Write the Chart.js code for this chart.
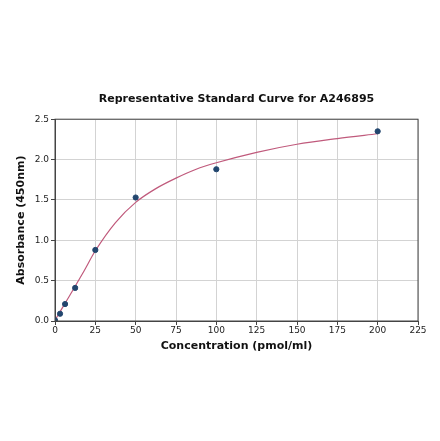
<!DOCTYPE html>
<html>
<head>
<meta charset="utf-8">
<script src="https://cdn.jsdelivr.net/npm/chart.js@4"></script>
<style>
  html, body { margin: 0; padding: 0; background: #fff; }
  #wrap { width: 440px; height: 441px; }
</style>
</head>
<body>
<div id="wrap"><canvas id="curveChart" width="440" height="441"></canvas></div>
<script>
// --- standard points ---
const concentrations = [0, 3.125, 6.25, 12.5, 25, 50, 100, 200];
const absorbance = [0.01, 0.09, 0.21, 0.41, 0.88, 1.53, 1.88, 2.35];

// --- fitted curve ---
const curveX = [0, 3, 6.25, 12.5, 18, 25, 37.5, 50, 62.5, 75, 87.5, 100, 125, 150, 175, 200];
const curveY = [0.01, 0.11, 0.22, 0.43, 0.62, 0.87, 1.22, 1.47, 1.64, 1.77, 1.88, 1.96, 2.09, 2.19, 2.26, 2.32];

const xTicks = [0, 25, 50, 75, 100, 125, 150, 175, 200, 225];
const yTicks = [0, 0.5, 1.0, 1.5, 2.0, 2.5];

const FONT = 'DejaVu Sans';

// draws the full frame round the plot
const frame = {
  id: 'frame',
  afterDraw(chart) {
    const a = chart.chartArea, ctx = chart.ctx;
    ctx.save();
    ctx.strokeStyle = '#444';
    ctx.lineWidth = 1;
    ctx.strokeRect(a.left, a.top, a.right - a.left, a.bottom - a.top);
    ctx.restore();
  },
};

new Chart(document.getElementById('curveChart'), {
  type: 'scatter',
  data: {
    datasets: [
      {
        label: 'Standard',
        data: concentrations.map((x, i) => ({ x: x, y: absorbance[i] })),
        backgroundColor: '#22466e',
        borderColor: '#22466e',
        pointRadius: 2.6,
        order: 1,
      },
      {
        label: 'Fit',
        data: curveX.map((x, i) => ({ x: x, y: curveY[i] })),
        showLine: true,
        borderColor: '#c05a7c',
        borderWidth: 1.2,
        pointRadius: 0,
        cubicInterpolationMode: 'monotone',
        order: 2,
      },
    ],
  },
  options: {
    responsive: false,
    animation: false,
    layout: { padding: { left: 11, right: 22, top: 93, bottom: 84 } },
    plugins: {
      legend: { display: false },
      tooltip: { enabled: false },
      title: {
        display: true,
        fullSize: false,
        text: 'Representative Standard Curve for A246895',
        color: '#111',
        font: { family: FONT, size: 11, weight: 'bold' },
        padding: { top: 0, bottom: 13 },
      },
    },
    scales: {
      x: {
        type: 'linear',
        min: 0,
        max: 225,
        afterBuildTicks: (s) => { s.ticks = xTicks.map((v) => ({ value: v })); },
        afterFit: (s) => { s.height = 36; },
        grid: { color: '#d3d3d3', tickColor: '#444', tickLength: 4 },
        border: { color: '#444' },
        ticks: { color: '#222', padding: 0, maxRotation: 0, font: { family: FONT, size: 9 } },
        title: {
          display: true,
          text: 'Concentration (pmol/ml)',
          color: '#111',
          font: { family: FONT, size: 11, weight: 'bold' },
        },
      },
      y: {
        min: 0,
        max: 2.5,
        afterBuildTicks: (s) => { s.ticks = yTicks.map((v) => ({ value: v })); },
        afterFit: (s) => { s.width = 44; },
        grid: { color: '#d3d3d3', tickColor: '#444', tickLength: 4 },
        border: { color: '#444' },
        ticks: {
          color: '#222',
          padding: 2,
          font: { family: FONT, size: 9 },
          callback: (v) => v.toFixed(1),
        },
        title: {
          display: true,
          text: 'Absorbance (450nm)',
          color: '#111',
          font: { family: FONT, size: 11, weight: 'bold' },
        },
      },
    },
  },
  plugins: [frame],
});
</script>
</body>
</html>
